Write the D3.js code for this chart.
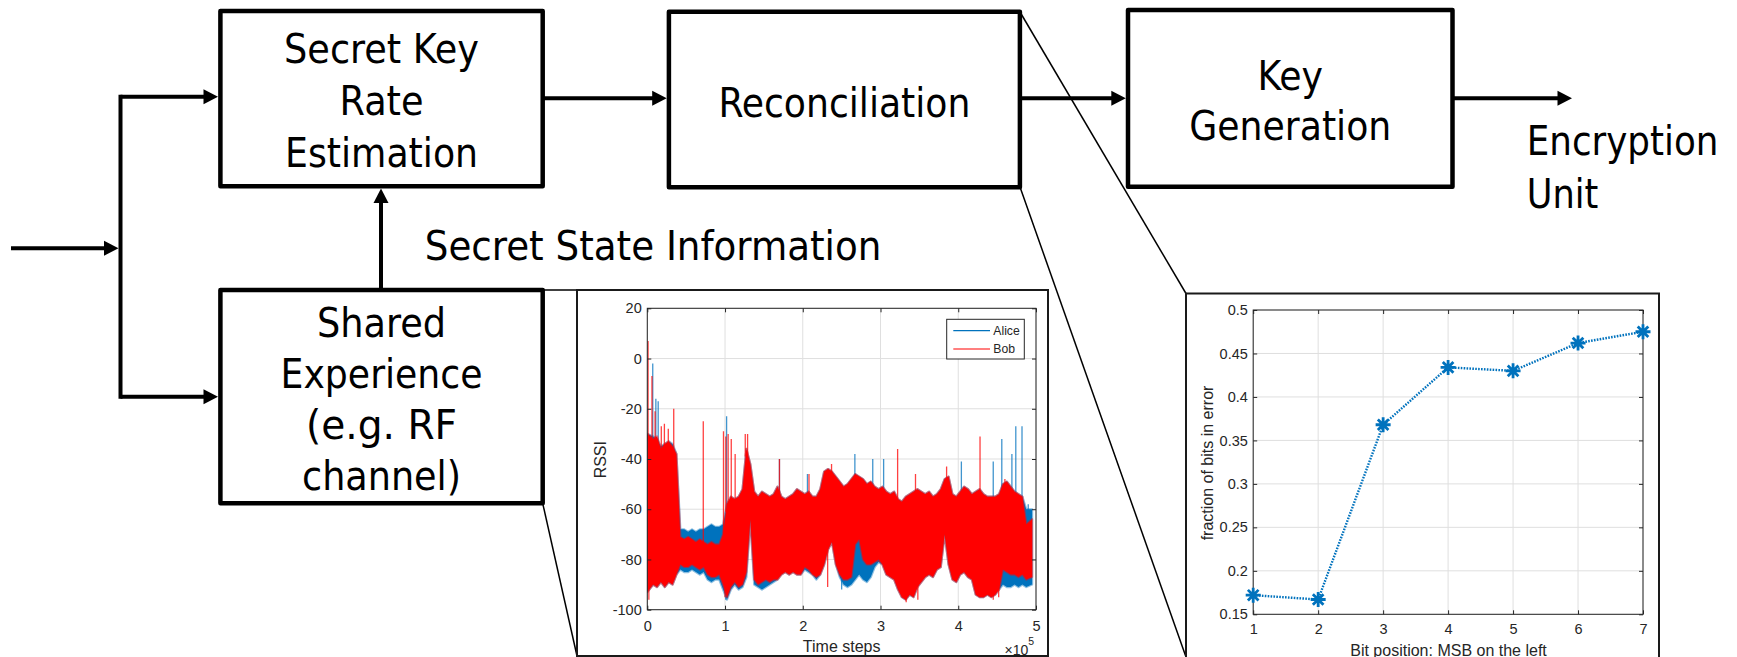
<!DOCTYPE html>
<html>
<head>
<meta charset="utf-8">
<script src="https://cdn.jsdelivr.net/npm/d3@7"></script>
<style>
  html, body { margin: 0; padding: 0; background: #fff; }
  svg { display: block; }
</style>
</head>
<body>
<svg id="fig" width="1737" height="657"></svg>
<script>
// ---------------- RSSI trace (left inset) ----------------
// Envelope of each 5000-step bin: upper and lower edge of the dense trace.
const binSize = 5000;
const bobHigh = [
  -30,-32,-31,-36,-34,-33,-35,-38,-71,-72,
  -71,-72,-73,-72,-73,-74,-73,-74,-74,-70,
  -58,-55,-56,-55,-52,-36,-42,-53,-55,-53,
  -54,-55,-54,-51,-55,-56,-55,-54,-52,-53,
  -54,-53,-55,-55,-52,-45,-44,-45,-47,-49,
  -51,-50,-48,-46,-47,-48,-50,-49,-51,-52,
  -51,-53,-54,-53,-56,-57,-55,-54,-53,-52,
  -53,-54,-53,-55,-54,-52,-48,-47,-54,-55,
  -53,-51,-52,-54,-53,-52,-54,-55,-55,-55,
  -54,-50,-49,-51,-53,-54,-55,-66,-64
];
const bobLow = [
  -93,-90,-91,-89,-91,-89,-90,-86,-82,-83,
  -83,-82,-83,-84,-83,-86,-87,-87,-86,-90,
  -95,-91,-89,-91,-90,-85,-64,-88,-90,-89,
  -88,-89,-88,-88,-86,-85,-86,-85,-86,-86,
  -83,-84,-86,-87,-86,-82,-76,-73,-82,-86,
  -88,-88,-87,-74,-72,-80,-82,-82,-81,-80,
  -82,-86,-87,-88,-92,-95,-96,-94,-95,-91,
  -89,-87,-86,-87,-84,-83,-70,-82,-88,-89,
  -86,-85,-87,-88,-94,-95,-95,-94,-95,-94,
  -92,-84,-85,-86,-86,-87,-86,-88,-87
];
const aliceHigh = [
  -30,-31,-32,-35,-34,-33,-34,-38,-68,-68,
  -69,-68,-69,-68,-68,-67,-66,-67,-67,-66,
  -58,-55,-56,-55,-52,-36,-42,-53,-55,-53,
  -54,-55,-54,-51,-55,-56,-55,-54,-52,-53,
  -54,-53,-55,-55,-52,-45,-44,-45,-47,-49,
  -51,-50,-48,-46,-47,-48,-50,-49,-51,-52,
  -51,-53,-54,-53,-56,-57,-55,-54,-53,-52,
  -53,-54,-53,-55,-54,-52,-48,-47,-54,-55,
  -53,-51,-52,-54,-53,-52,-54,-55,-55,-55,
  -54,-50,-49,-51,-53,-54,-55,-60,-60
];
const aliceLow = [
  -93,-90,-91,-89,-91,-89,-90,-86,-84,-85,
  -85,-84,-85,-86,-85,-88,-89,-88,-88,-92,
  -96,-92,-90,-92,-91,-87,-64,-90,-91,-92,
  -91,-90,-89,-88,-86,-85,-86,-85,-86,-86,
  -84,-85,-86,-88,-86,-82,-76,-73,-82,-87,
  -90,-91,-90,-88,-86,-88,-89,-87,-83,-81,
  -82,-86,-87,-88,-92,-95,-96,-94,-95,-91,
  -89,-87,-86,-87,-84,-83,-70,-82,-88,-89,
  -86,-85,-87,-88,-94,-95,-95,-94,-95,-94,
  -92,-90,-91,-91,-90,-91,-90,-91,-90
];
// Isolated excursions beyond the envelope: [time step, RSSI]
const bobSpikes = [
  [1000, 7], [6000, -7], [10000, -21], [18000, -27], [22000, -26], [27000, -28],
  [34000, -20], [72000, -25], [98000, -29], [101000, -31], [104000, -30],
  [108000, -32], [113000, -38], [126000, -30], [129000, -30], [170000, -40],
  [208000, -46], [237000, -42], [322000, -36], [345000, -46], [385000, -43],
  [428000, -31], [460000, -48],
  [2000, -96], [100000, -95], [232000, -91], [333000, -97], [348000, -96],
  [445000, -96], [452000, -95]
];
const aliceSpikes = [
  [7000, -2], [11000, -16], [14000, -17], [102000, -23], [170000, -40],
  [206000, -46], [267000, -38], [290000, -40], [304000, -40], [404000, -41],
  [445000, -41], [456000, -32], [469000, -38], [474000, -27], [482000, -27],
  [490000, -58], [101000, -96], [250000, -92]
];
const rssiTicksX = [0, 100000, 200000, 300000, 400000, 500000];
const rssiTickLabelsX = ["0", "1", "2", "3", "4", "5"];
const rssiTicksY = [-100, -80, -60, -40, -20, 0, 20];
const legendNames = ["Alice", "Bob"];

// ---------------- Bit error fraction (right inset) ----------------
const bitPositions = [1, 2, 3, 4, 5, 6, 7];
const bitErrorFraction = [0.172, 0.167, 0.368, 0.434, 0.430, 0.462, 0.475];
const bitTicksY = [0.15, 0.2, 0.25, 0.3, 0.35, 0.4, 0.45, 0.5];
const bitTickLabelsY = ["0.15", "0.2", "0.25", "0.3", "0.35", "0.4", "0.45", "0.5"];

// ---------------- Block diagram ----------------
const blocks = [
  { x: 220.4, y: 11, w: 322.3, h: 175.3,
    lines: [["Secret Key", 63.3, 195], ["Rate", 115, 84], ["Estimation", 166.7, 193]] },
  { x: 220.4, y: 290, w: 322.3, h: 213.3,
    lines: [["Shared", 336.7, 129], ["Experience", 388.3, 202], ["(e.g. RF", 439.3, 151], ["channel)", 490, 159]] },
  { x: 668.9, y: 11.7, w: 351, h: 175.6,
    lines: [["Reconciliation", 116.7, 252]] },
  { x: 1128, y: 10, w: 324.5, h: 176.7,
    lines: [["Key", 90, 65.5], ["Generation", 140, 202]] }
];
const freeLabels = [
  ["Secret State Information", 424.8, 260, 456.5],
  ["Encryption", 1526.7, 155, 191.7],
  ["Unit", 1526.7, 208.3, 71.6]
];
const arrows = [
  [11, 248.3, 118.5, 248.3],
  [120.5, 96.7, 218, 96.7],
  [120.5, 396.7, 218, 396.7],
  [381, 290, 381, 188.5],
  [543, 98.3, 666.7, 98.3],
  [1020, 98.3, 1125.8, 98.3],
  [1452.5, 98.3, 1572, 98.3]
];
const plainLines = [[120.5, 96.7, 120.5, 396.7]];
const zoomLines = [
  [542.7, 290, 577, 290],
  [542.7, 503.3, 577, 656],
  [1020, 12, 1186, 293.5],
  [1020, 187, 1186, 657]
];

// =====================================================
const W = 1737, H = 657;
const svg = d3.select("#fig");
svg.append("rect").attr("width", W).attr("height", H).attr("fill", "#fff");

const diagramFont = "'DejaVu Sans Condensed', 'DejaVu Sans', Tahoma, sans-serif";
const chartFont = "'Liberation Sans', Arial, Helvetica, sans-serif";
const axisColor = "#262626";
const gridColor = "#dfdfdf";
const blue = "#0072BD", red = "#FF0000";

// zoom connector lines
svg.append("g").selectAll("line").data(zoomLines).join("line")
  .attr("x1", d => d[0]).attr("y1", d => d[1]).attr("x2", d => d[2]).attr("y2", d => d[3])
  .attr("stroke", "#000").attr("stroke-width", 1.5);

// blocks
const gb = svg.append("g");
blocks.forEach(b => {
  gb.append("rect").attr("x", b.x).attr("y", b.y).attr("width", b.w).attr("height", b.h)
    .attr("fill", "none").attr("stroke", "#000").attr("stroke-width", 4.5)
    .attr("stroke-linejoin", "round");
  b.lines.forEach(([t, base, wd]) => {
    gb.append("text").attr("x", b.x + b.w / 2).attr("y", base)
      .attr("text-anchor", "middle").attr("font-family", diagramFont).attr("font-size", 41)
      .attr("fill", "#000").attr("textLength", wd).attr("lengthAdjust", "spacingAndGlyphs")
      .text(t);
  });
});
freeLabels.forEach(([t, x, base, wd]) => {
  gb.append("text").attr("x", x).attr("y", base).attr("text-anchor", "start")
    .attr("font-family", diagramFont).attr("font-size", 41).attr("fill", "#000")
    .attr("textLength", wd).attr("lengthAdjust", "spacingAndGlyphs").text(t);
});

// arrows
const ga = svg.append("g");
plainLines.forEach(([x1, y1, x2, y2]) => {
  ga.append("line").attr("x1", x1).attr("y1", y1 - 2).attr("x2", x2).attr("y2", y2 + 2)
    .attr("stroke", "#000").attr("stroke-width", 4);
});
arrows.forEach(([x1, y1, x2, y2]) => {
  const len = Math.hypot(x2 - x1, y2 - y1);
  const ux = (x2 - x1) / len, uy = (y2 - y1) / len;
  const headL = 14.5, headW = 7.5;
  const bx = x2 - ux * headL, by = y2 - uy * headL;
  ga.append("line").attr("x1", x1).attr("y1", y1).attr("x2", bx + ux).attr("y2", by + uy)
    .attr("stroke", "#000").attr("stroke-width", 4);
  ga.append("path")
    .attr("d", `M${x2},${y2}L${bx - uy * headW},${by + ux * headW}L${bx + uy * headW},${by - ux * headW}Z`)
    .attr("fill", "#000");
});

// ---------- helper for MATLAB-like axes ----------
function drawAxes(g, box, xs, ys, xTicks, xLabels, yTicks, yLabels, xPad, yPad) {
  const tick = 4;
  g.append("g").selectAll("line").data(xTicks).join("line")
    .attr("x1", d => xs(d)).attr("x2", d => xs(d)).attr("y1", box.y0).attr("y2", box.y1)
    .attr("stroke", gridColor).attr("stroke-width", 1);
  g.append("g").selectAll("line").data(yTicks).join("line")
    .attr("y1", d => ys(d)).attr("y2", d => ys(d)).attr("x1", box.x0).attr("x2", box.x1)
    .attr("stroke", gridColor).attr("stroke-width", 1);
  return function finish() {
    const fg = g.append("g");
    fg.append("rect").attr("x", box.x0).attr("y", box.y0)
      .attr("width", box.x1 - box.x0).attr("height", box.y1 - box.y0)
      .attr("fill", "none").attr("stroke", axisColor).attr("stroke-width", 1);
    const xb = d3.axisBottom(xs).tickValues(xTicks).tickSize(-tick).tickPadding(xPad)
      .tickFormat((d, i) => xLabels[i]);
    const xt = d3.axisTop(xs).tickValues(xTicks).tickSize(-tick).tickFormat("");
    const yl = d3.axisLeft(ys).tickValues(yTicks).tickSize(-tick).tickPadding(yPad)
      .tickFormat((d, i) => yLabels[i]);
    const yr = d3.axisRight(ys).tickValues(yTicks).tickSize(-tick).tickFormat("");
    [[xb, `translate(0,${box.y1})`], [xt, `translate(0,${box.y0})`],
     [yl, `translate(${box.x0},0)`], [yr, `translate(${box.x1},0)`]].forEach(([ax, tr]) => {
      const a = fg.append("g").attr("transform", tr).call(ax);
      a.select(".domain").remove();
      a.selectAll(".tick line").attr("stroke", axisColor).attr("stroke-width", 1);
      a.selectAll(".tick text").attr("fill", axisColor)
        .attr("font-family", chartFont).attr("font-size", 14.5);
    });
  };
}

// =============== Left inset: RSSI ===============
const gl = svg.append("g");
gl.append("rect").attr("x", 577).attr("y", 290).attr("width", 471).attr("height", 366)
  .attr("fill", "#fff").attr("stroke", "#1a1a1a").attr("stroke-width", 2);
const L = { x0: 647.3, x1: 1036, y0: 308.3, y1: 609.7 };
const xR = d3.scaleLinear().domain([0, 500000]).range([L.x0, L.x1]);
const yR = d3.scaleLinear().domain([-100, 20]).range([L.y1, L.y0]);
const finishL = drawAxes(gl, L, xR, yR, rssiTicksX, rssiTickLabelsX,
  rssiTicksY, rssiTicksY.map(String), 11, 5.6);

gl.append("clipPath").attr("id", "clipL").append("rect")
  .attr("x", L.x0).attr("y", L.y0).attr("width", L.x1 - L.x0).attr("height", L.y1 - L.y0);
const dataL = gl.append("g").attr("clip-path", "url(#clipL)");

const nBins = bobHigh.length;
function binX(i) {
  if (i === 0) return xR(0);
  if (i === nBins - 1) return xR((i + 1) * binSize);
  return xR(i * binSize + binSize / 2);
}
function drawTrace(high, low, spikes, color) {
  const rows = high.map((h, i) => ({ i, hi: h, lo: low[i] }));
  const area = d3.area().x(d => binX(d.i)).y0(d => yR(d.lo)).y1(d => yR(d.hi));
  // soft edge, as a dense trace renders
  dataL.append("path").attr("d", area(rows)).attr("fill", "none")
    .attr("stroke", color).attr("stroke-width", 2.2).attr("stroke-opacity", 0.45)
    .attr("stroke-linejoin", "round");
  dataL.append("path").attr("d", area(rows)).attr("fill", color);
  dataL.append("g").selectAll("line").data(spikes).join("line")
    .attr("x1", d => xR(d[0])).attr("x2", d => xR(d[0]))
    .attr("y1", d => {
      const r = rows[Math.min(nBins - 1, Math.floor(d[0] / binSize))];
      return yR(d[1] > r.hi ? r.hi - 3 : r.lo + 3);
    })
    .attr("y2", d => yR(d[1]))
    .attr("stroke", color).attr("stroke-width", 1.3).attr("stroke-opacity", 0.75);
}
drawTrace(aliceHigh, aliceLow, aliceSpikes, blue);
drawTrace(bobHigh, bobLow, bobSpikes, red);
finishL();

// legend
const lg = gl.append("g");
lg.append("rect").attr("x", 946.7).attr("y", 319.3).attr("width", 77.6).attr("height", 39.7)
  .attr("fill", "#fff").attr("stroke", axisColor).attr("stroke-width", 1);
[[blue, 330.7], [red, 349]].forEach(([c, y], k) => {
  lg.append("line").attr("x1", 953.3).attr("x2", 990).attr("y1", y).attr("y2", y)
    .attr("stroke", c).attr("stroke-width", 1.2);
  lg.append("text").attr("x", 993.3).attr("y", y + 4.3)
    .attr("font-family", chartFont).attr("font-size", 12.2).attr("fill", axisColor)
    .text(legendNames[k]);
});

gl.append("text").attr("x", 841.7).attr("y", 651.7).attr("text-anchor", "middle")
  .attr("font-family", chartFont).attr("font-size", 16).attr("fill", axisColor).text("Time steps");
gl.append("text").attr("transform", "translate(606,459.7) rotate(-90)").attr("text-anchor", "middle")
  .attr("font-family", chartFont).attr("font-size", 16).attr("fill", axisColor).text("RSSI");
const mult = gl.append("text").attr("x", 1004.5).attr("y", 654.5)
  .attr("font-family", chartFont).attr("font-size", 14).attr("fill", axisColor);
mult.append("tspan").text("\u00d710");
mult.append("tspan").attr("font-size", 10.5).attr("dy", -9.5).text("5");

// =============== Right inset: bit errors ===============
const gr = svg.append("g");
gr.append("rect").attr("x", 1186).attr("y", 293.5).attr("width", 473).attr("height", 380)
  .attr("fill", "#fff").attr("stroke", "#1a1a1a").attr("stroke-width", 2);
const R = { x0: 1253.2, x1: 1643, y0: 310, y1: 614.3 };
const xB = d3.scaleLinear().domain([1, 7]).range([R.x0, R.x1]);
const yB = d3.scaleLinear().domain([0.15, 0.5]).range([R.y1, R.y0]);
const finishR = drawAxes(gr, R, xB, yB, bitPositions, bitPositions.map(String),
  bitTicksY, bitTickLabelsY, 9.7, 5.4);

const pts = bitPositions.map((p, i) => [p, bitErrorFraction[i]]);
gr.append("path").attr("d", d3.line().x(d => xB(d[0])).y(d => yB(d[1]))(pts))
  .attr("fill", "none").attr("stroke", blue).attr("stroke-width", 2.4)
  .attr("stroke-dasharray", "1.6,1.3");
finishR();
const star = r => {
  const a = r * Math.SQRT1_2;
  return `M${-r},0L${r},0M0,${-r}L0,${r}M${-a},${-a}L${a},${a}M${-a},${a}L${a},${-a}`;
};
gr.append("g").selectAll("path").data(pts).join("path")
  .attr("transform", d => `translate(${xB(d[0])},${yB(d[1])})`)
  .attr("d", star(7.5)).attr("fill", "none").attr("stroke", blue).attr("stroke-width", 2.8);

gr.append("text").attr("x", 1448.5).attr("y", 655.5).attr("text-anchor", "middle")
  .attr("font-family", chartFont).attr("font-size", 16).attr("fill", axisColor)
  .text("Bit position: MSB on the left");
gr.append("text").attr("transform", "translate(1213,463) rotate(-90)").attr("text-anchor", "middle")
  .attr("font-family", chartFont).attr("font-size", 16).attr("fill", axisColor)
  .text("fraction of bits in error");
</script>
</body>
</html>
